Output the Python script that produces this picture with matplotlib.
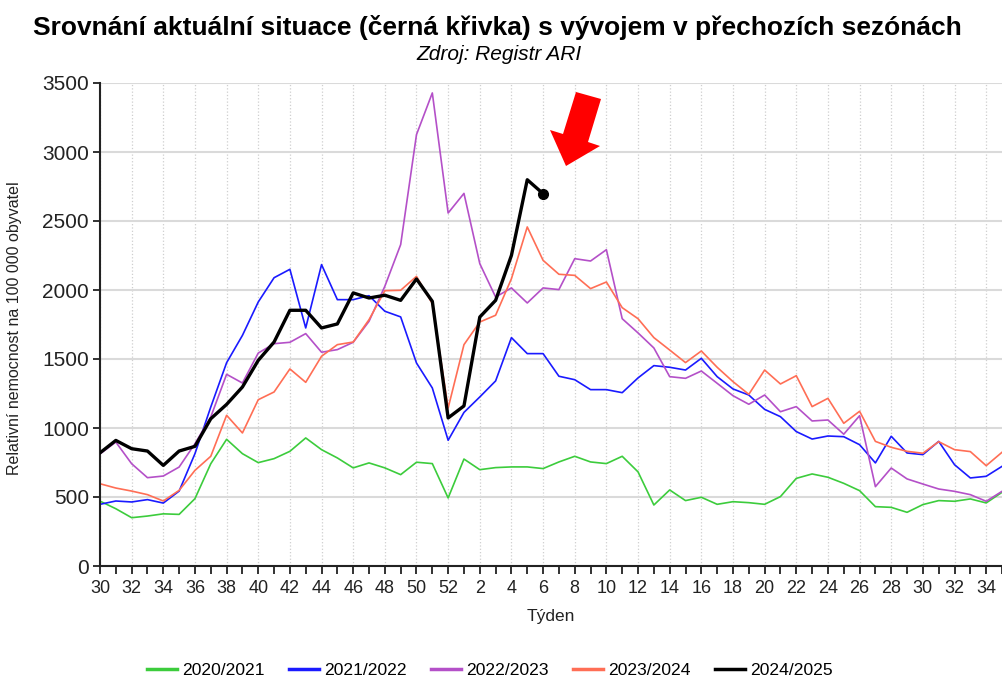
import matplotlib
matplotlib.use('Agg')
import matplotlib.pyplot as plt
from matplotlib.patches import Polygon
from matplotlib.lines import Line2D

plt.rcParams['font.family'] = ['Liberation Sans', 'DejaVu Sans']

# weeks of the season: 30..52, then 1..35
weeks = list(range(30, 53)) + list(range(1, 36))

s2020 = [470, 415, 350, 362, 378, 374, 488, 741, 918, 814, 749, 778, 831, 928, 843, 783,
         711, 747, 711, 662, 752, 742, 493, 775, 698, 713, 718, 718, 706, 754, 795, 754,
         742, 795, 682, 442, 551, 474, 498, 447, 466, 459, 447, 503, 635, 667, 643, 599,
         546, 430, 425, 389, 445, 474, 469, 486, 457, 534]
s2021 = [447, 471, 464, 481, 456, 543, 814, 1152, 1473, 1671, 1913, 2089, 2150, 1725, 2184,
         1930, 1930, 1959, 1846, 1805, 1471, 1290, 911, 1113, 1225, 1341, 1655, 1539, 1539,
         1375, 1350, 1278, 1278, 1256, 1363, 1452, 1440, 1420, 1505, 1372, 1283, 1239, 1135,
         1082, 974, 920, 942, 937, 879, 747, 940, 819, 807, 903, 734, 638, 650, 722]
s2022 = [812, 898, 741, 640, 652, 717, 886, 1080, 1389, 1326, 1543, 1611, 1621, 1684, 1549,
         1568, 1621, 1773, 2027, 2329, 3126, 3428, 2558, 2700, 2191, 1949, 2015, 1906, 2015,
         2003, 2227, 2210, 2292, 1792, 1689, 1580, 1372, 1360, 1413, 1324, 1234, 1172, 1239,
         1118, 1155, 1051, 1058, 955, 1089, 575, 710, 631, 594, 558, 541, 517, 469, 541]
s2023 = [596, 565, 543, 517, 471, 548, 693, 795, 1092, 964, 1205, 1261, 1428, 1331, 1520,
         1604, 1623, 1785, 1995, 1998, 2099, 1901, 1145, 1604, 1768, 1817, 2082, 2457, 2215,
         2114, 2106, 2010, 2058, 1872, 1792, 1655, 1565, 1474, 1558, 1440, 1336, 1244, 1420,
         1319, 1379, 1155, 1215, 1034, 1121, 903, 860, 831, 817, 901, 843, 829, 727, 824]
s2024 = [820, 910, 850, 833, 729, 833, 867, 1067, 1171, 1297, 1490, 1623, 1853, 1853, 1725,
         1754, 1979, 1942, 1962, 1925, 2080, 1918, 1073, 1160, 1804, 1925, 2251, 2799, 2698]

labels = ['2020/2021', '2021/2022', '2022/2023', '2023/2024', '2024/2025']
colors = ['#3ccc3c', '#1a1aff', '#b450c8', '#ff6e55', '#000000']

fig = plt.figure(figsize=(10.03, 6.8), dpi=100)
ax = fig.add_axes([100 / 1003, 1 - 566 / 680, 902 / 1003, 483 / 680])

for vals, col in zip([s2020, s2021, s2022, s2023], colors[:4]):
    ax.plot(range(len(vals)), vals, color=col, lw=1.2)
ax.plot(range(len(s2024)), s2024, color='black', lw=2.4, zorder=5)
ax.plot(len(s2024) - 1, s2024[-1], 'o', color='black', ms=7, zorder=6)

ax.set_xlim(0, len(weeks) - 1)
ax.set_ylim(0, 3500)
ax.set_xticks(range(0, len(weeks), 2))
ax.set_xticklabels([str(w) for w in weeks[::2]])
ax.set_xticks(range(1, len(weeks), 2), minor=True)
ax.set_yticks(range(0, 3501, 500))
ax.tick_params(axis='x', which='both', length=6, width=1.3, colors='#222222', labelsize=13, pad=4)
ax.tick_params(axis='y', length=5, width=1.3, colors='#222222', labelsize=15, pad=3)

ax.grid(axis='y', color='#dadada', lw=1.5)
ax.grid(axis='x', which='major', color='#cfcfcf', ls=':', lw=0.9)
ax.set_axisbelow(True)
for side in ['top', 'right']:
    ax.spines[side].set_visible(False)
for side in ['left', 'bottom']:
    ax.spines[side].set_color('#222222')
    ax.spines[side].set_linewidth(1.5)

# red arrow pointing at the current value
pts = [(576, 92), (601, 99), (588, 142), (600, 146), (566, 166), (550, 130), (563, 134)]
arrow = Polygon([(px / 1003, 1 - py / 680) for px, py in pts], closed=True,
                transform=fig.transFigure, facecolor='#ff0000', edgecolor='none')
fig.patches.append(arrow)

fig.text(497 / 1003, 1 - 28 / 680,
         'Srovnání aktuální situace (černá křivka) s vývojem v přechozích sezónách',
         ha='center', va='center', fontsize=19, fontweight='bold')
fig.text(499 / 1003, 1 - 55 / 680, 'Zdroj: Registr ARI', ha='center', va='center',
         fontsize=15, style='italic')
fig.text(15 / 1003, 1 - 328 / 680, 'Relativní nemocnost na 100 000 obyvatel',
         ha='center', va='center', rotation=90, fontsize=11.5, color='#222222')
fig.text(551 / 1003, 1 - 617 / 680, 'Týden', ha='center', va='center', fontsize=12.5,
         color='#222222')

handles = [Line2D([], [], color=c, lw=2.5) for c in colors]
fig.legend(handles, labels, loc='center', bbox_to_anchor=(490 / 1003, 1 - 670 / 680),
           ncol=5, frameon=False, fontsize=12.6, handlelength=1.7, handletextpad=0.3,
           columnspacing=1.4)

fig.savefig('out.png', dpi=100)
